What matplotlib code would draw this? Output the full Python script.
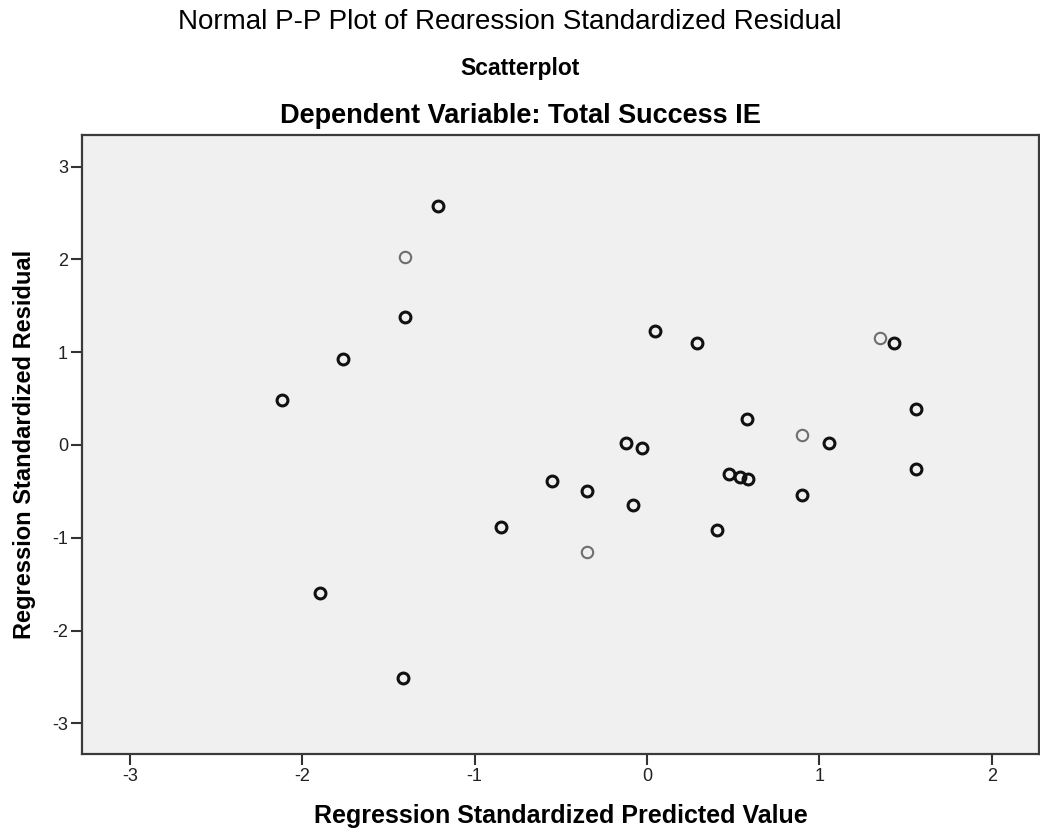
import numpy as np
import matplotlib
matplotlib.use('Agg')
from matplotlib import pyplot as plt
from matplotlib.patches import Rectangle

plt.rcParams['font.family'] = ['Liberation Sans', 'DejaVu Sans']
plt.rcParams['axes.unicode_minus'] = False

# standardized predicted value / residual for each case
pred_dark = [-2.12, -1.90, -1.416, -1.211, -1.404, -1.761, -0.85, -0.553, -0.35, -0.12,
             -0.028, -0.084, 0.043, 0.287, 0.404, 0.478, 0.54, 0.584, 0.58, 0.90,
             1.053, 1.435, 1.562, 1.562]
resid_dark = [0.48, -1.59, -2.51, 2.57, 1.38, 0.93, -0.88, -0.39, -0.50, 0.02,
              -0.03, -0.65, 1.23, 1.10, -0.92, -0.31, -0.35, -0.37, 0.28, -0.54,
              0.02, 1.10, 0.39, -0.26]
# cases drawn in the lighter grey
pred_light = [-1.404, -0.35, 0.90, 1.352]
resid_light = [2.03, -1.15, 0.11, 1.154]

xticks = [-3, -2, -1, 0, 1, 2]
yticks = [-3, -2, -1, 0, 1, 2, 3]

fig = plt.figure(figsize=(10.4, 8.34), dpi=100)
ax = fig.add_axes([0.0788, 0.0959, 0.9202, 0.7422])
ax.set_facecolor('#f0f0f0')

ax.plot(pred_dark, resid_dark, 'o', ms=7.8, mfc='none', mec='#111111', mew=2.2, ls='none')
ax.plot(pred_light, resid_light, 'o', ms=8.2, mfc='none', mec='#6e6e6e', mew=1.5, ls='none')

ax.set_xlim(-3.278, 2.273)
ax.set_ylim(-3.33, 3.34)
ax.set_xticks(xticks)
ax.set_yticks(yticks)
ax.tick_params(direction='out', length=8, width=1.5, color='#333333',
               labelsize=13, labelcolor='#222222', pad=2)

for s in ax.spines.values():
    s.set_color('#3a3a3a')
    s.set_linewidth(1.6)

ax.set_xlabel('Regression Standardized Predicted Value', fontsize=18, fontweight='bold')
ax.xaxis.set_label_coords(0.5, -0.08)
ax.set_ylabel('Regression Standardized Residual', fontsize=17, fontweight='bold')
ax.yaxis.set_label_coords(-0.048, 0.5)

# stacked titles (top one is cut off in the original output)
fig.text(0.49, 1 - 22 / 834, 'Normal P-P Plot of Regression Standardized Residual',
         ha='center', va='center', fontsize=20)
fig.add_artist(Rectangle((0, 1 - 46 / 834), 1, 17 / 834, transform=fig.transFigure,
                         facecolor='white', edgecolor='none', zorder=10))
fig.text(0.5, 1 - 68 / 834, 'Scatterplot', ha='center', va='center',
         fontsize=16.5, fontweight='bold')
fig.text(0.5, 1 - 116 / 834, 'Dependent Variable: Total Success IE', ha='center',
         va='center', fontsize=19.5, fontweight='bold')

plt.savefig('out.png', dpi=100)
plt.close()
